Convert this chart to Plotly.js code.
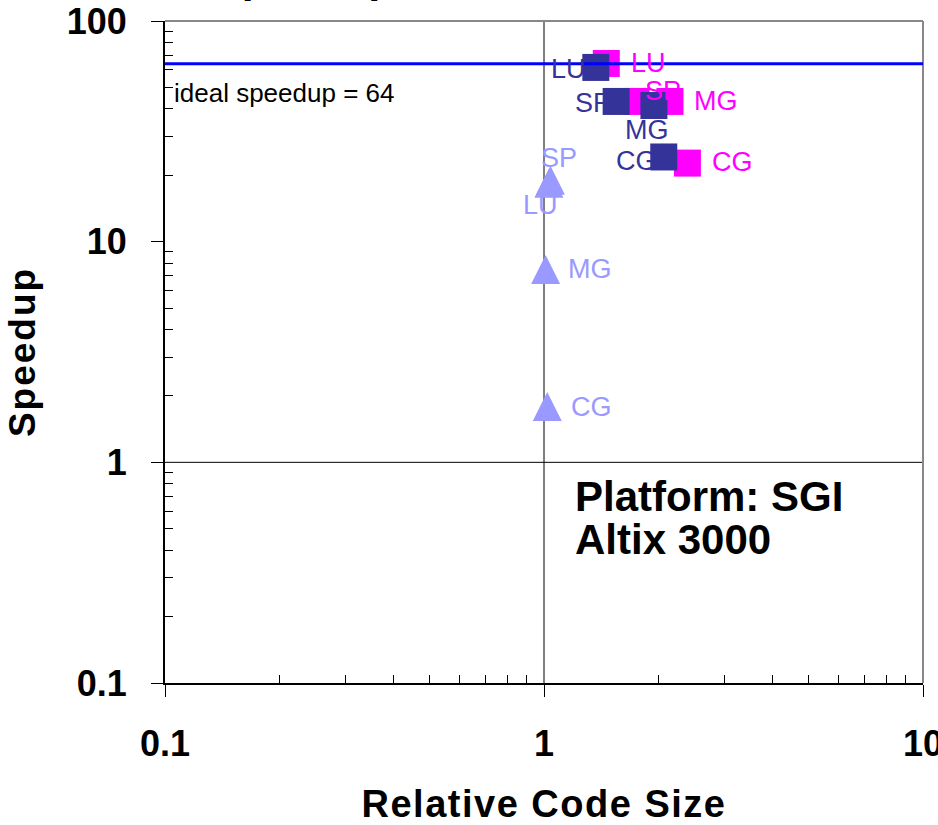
<!DOCTYPE html>
<html><head><meta charset="utf-8">
<script src="https://cdn.plot.ly/plotly-3.0.1.min.js"></script>
<style>
html,body{margin:0;padding:0;background:#fff;}
#chart{width:938px;height:825px;}
.xtitle{letter-spacing:1.5px;}
.ytitle{letter-spacing:2px;}
</style></head><body><div id="chart"></div>
<script>
// ---- data ----
const benchmarks = ['LU', 'SP', 'MG', 'CG'];
const magentaCodeSize = [1.46, 1.75, 2.15, 2.39];
const magentaSpeedup  = [64.2, 43.2, 43.2, 22.7];
const navyCodeSize    = [1.37, 1.55, 1.95, 2.07];
const navySpeedup     = [61.6, 43.2, 41.4, 24.2];
const lilacCodeSize   = [1.03, 1.04, 1.01, 1.02];
const lilacSpeedup    = [18.4, 19.0, 7.48, 1.79];
const idealSpeedup = 64;
const axisCross = 1;
const xTickVals = [0.1, 1, 10];
const xTickText = ['0.1', '1', '10'];
const yTickVals = [0.1, 1, 10, 100];
const yTickText = ['0.1', '1', '10', '100'];

// ---- styling / label placement (pixels) ----
const magentaLabelOffset = [[42, 0], [27, -10], [46, 0], [45, -1]];
const navyLabelOffset    = [[-27, 2], [-23, 2], [-7, 24], [-27, 4]];
const lilacLabelOffset   = [[-8, 22], [9, -22], [44, 0], [44, 0]];
const COLORS = {magenta: '#FF00FF', navy: '#333399', lilac: '#9999FF'};
const FONT = 'Liberation Sans, Arial, Helvetica, sans-serif';

function minorTicks(lo, hi) {
  const v = [];
  for (let d = lo; d < hi; d++) for (let k = 2; k <= 9; k++) v.push(k * Math.pow(10, d));
  return v;
}

const squareMarker = c => ({symbol: 'square', size: 27, color: c, line: {width: 0}});
const traces = [
  {type: 'scatter', mode: 'markers', name: 'magenta', x: magentaCodeSize, y: magentaSpeedup,
   text: benchmarks, marker: squareMarker(COLORS.magenta), hoverinfo: 'text+x+y'},
  {type: 'scatter', mode: 'markers', name: 'navy', x: navyCodeSize, y: navySpeedup,
   text: benchmarks, marker: squareMarker(COLORS.navy), hoverinfo: 'text+x+y'},
  {type: 'scatter', mode: 'markers', name: 'lilac', x: lilacCodeSize, y: lilacSpeedup,
   text: benchmarks, hoverinfo: 'text+x+y',
   marker: {symbol: 'arrow-down', angle: 180, standoff: 14.5, size: 29, color: COLORS.lilac, line: {width: 0}}}
];

const annotations = [];
function addLabels(xs, ys, offs, color) {
  benchmarks.forEach((b, i) => {
    annotations.push({x: Math.log10(xs[i]), y: Math.log10(ys[i]), xref: 'x', yref: 'y',
      text: b, showarrow: false, xanchor: 'center', yanchor: 'middle',
      xshift: offs[i][0], yshift: -offs[i][1], borderpad: 0, borderwidth: 0,
      font: {family: FONT, size: 27, color: color}});
  });
}
addLabels(magentaCodeSize, magentaSpeedup, magentaLabelOffset, COLORS.magenta);
addLabels(navyCodeSize, navySpeedup, navyLabelOffset, COLORS.navy);
addLabels(lilacCodeSize, lilacSpeedup, lilacLabelOffset, COLORS.lilac);

annotations.push({xref: 'paper', yref: 'y', x: 0, y: Math.log10(idealSpeedup), xanchor: 'left', yanchor: 'middle',
  xshift: 9, yshift: -29, showarrow: false, borderpad: 0, borderwidth: 0,
  text: 'ideal speedup = 64', font: {family: FONT, size: 26, color: '#000'}});
annotations.push({xref: 'paper', yref: 'paper', x: 0.541, y: 0.281, xanchor: 'left', yanchor: 'middle',
  showarrow: false, borderpad: 0, borderwidth: 0,
  text: 'Platform: SGI', font: {family: FONT, size: 42, color: '#000', weight: 'bold'}});
annotations.push({xref: 'paper', yref: 'paper', x: 0.541, y: 0.2175, xanchor: 'left', yanchor: 'middle',
  showarrow: false, borderpad: 0, borderwidth: 0,
  text: 'Altix 3000', font: {family: FONT, size: 42, color: '#000', weight: 'bold'}});
annotations.push({xref: 'paper', yref: 'paper', x: 0.5, y: 1, xanchor: 'center', yanchor: 'bottom',
  xshift: -7, yshift: 20, showarrow: false, borderpad: 0, borderwidth: 0,
  text: 'Speedup vs. Relative Code Size', font: {family: FONT, size: 43, color: '#000', weight: 'bold'}});

const shapes = [
  {type: 'line', xref: 'x', yref: 'paper', x0: axisCross, x1: axisCross, y0: 0, y1: 1, layer: 'below', line: {color: '#000', width: 1}},
  {type: 'line', xref: 'paper', yref: 'y', x0: 0, x1: 1, y0: axisCross, y1: axisCross, layer: 'below', line: {color: '#000', width: 1}},
  {type: 'line', xref: 'paper', yref: 'paper', x0: 0, x1: 1, y0: 1, y1: 1, line: {color: '#888', width: 2}},
  {type: 'line', xref: 'paper', yref: 'paper', x0: 1, x1: 1, y0: 0, y1: 1, line: {color: '#888', width: 2}},
  {type: 'line', xref: 'paper', yref: 'y', x0: 0, x1: 1, y0: idealSpeedup, y1: idealSpeedup,
   line: {color: '#0000FF', width: 3}}
];

const tickFont = {family: FONT, size: 36, color: '#000', weight: 'bold'};
const layout = {
  width: 938, height: 825,
  margin: {l: 165, r: 15, t: 21, b: 142, pad: 0},
  paper_bgcolor: '#fff', plot_bgcolor: '#fff',
  showlegend: false,
  font: {family: FONT, color: '#000'},
  xaxis: {type: 'log', range: [-1, 1], showgrid: false, zeroline: false,
    showline: true, linecolor: '#000', linewidth: 2,
    ticks: 'outside', ticklen: 12, tickwidth: 1, tickcolor: '#000',
    tickmode: 'array', tickvals: xTickVals, ticktext: xTickText, tickfont: tickFont,
    ticklabelstandoff: 16, ticklabeloverflow: 'allow',
    minor: {tickmode: 'array', tickvals: minorTicks(-1, 1), ticks: 'inside', ticklen: 8, tickwidth: 1, tickcolor: '#000', showgrid: false},
    title: {text: 'Relative Code Size', standoff: 30, font: {family: FONT, size: 38, color: '#000', weight: 'bold'}}},
  yaxis: {type: 'log', range: [-1, 2], showgrid: false, zeroline: false,
    showline: true, linecolor: '#000', linewidth: 2,
    ticks: 'outside', ticklen: 12, tickwidth: 1, tickcolor: '#000',
    tickmode: 'array', tickvals: yTickVals, ticktext: yTickText, tickfont: tickFont,
    ticklabelstandoff: 17, ticklabeloverflow: 'allow',
    minor: {tickmode: 'array', tickvals: minorTicks(-1, 2), ticks: 'inside', ticklen: 8, tickwidth: 1, tickcolor: '#000', showgrid: false},
    title: {text: 'Speedup', standoff: 20, font: {family: FONT, size: 37, color: '#000', weight: 'bold'}}},
  shapes: shapes,
  annotations: annotations
};

Plotly.newPlot('chart', traces, layout, {displayModeBar: false, staticPlot: true});
</script></body></html>
